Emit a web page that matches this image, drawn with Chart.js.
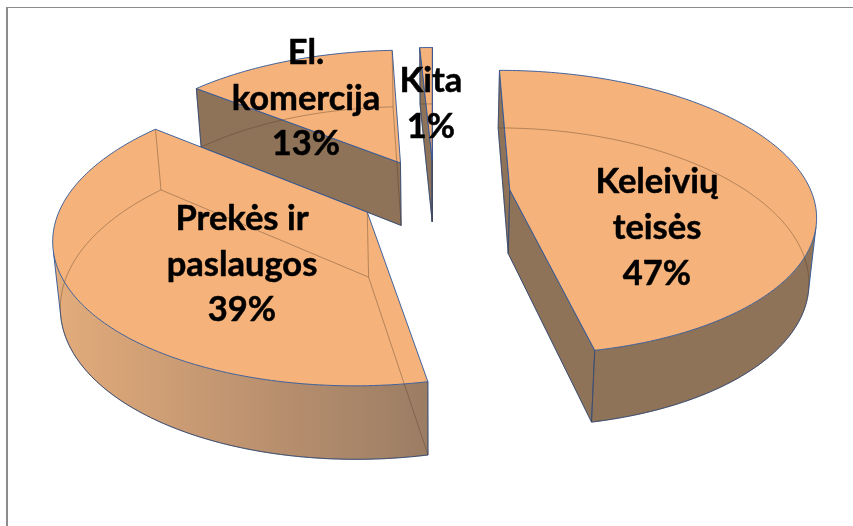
<!DOCTYPE html>
<html><head><meta charset="utf-8">
<style>html,body{margin:0;padding:0;background:#fff}#w{width:853px;height:526px}</style>
<script src="https://cdn.jsdelivr.net/npm/chart.js@4"></script>
</head><body><div id="w"><canvas id="c" width="853" height="526"></canvas></div>
<script>
const categories = ["Keleivių teisės", "Prekės ir paslaugos", "El. komercija", "Kita"];
const shares = [46.8, 39.0, 13.4, 0.8];
const labelLines = [["Keleivių", "teisės"], ["Prekės ir", "paslaugos"], ["El.", "komercija"], ["Kita"]];

// view of the tilted pie
const VIEW = {cx: 434, cy: 193.4, k: 0.000525, q: 0.462, radius: 302, explode: 76.5, depth: 64, taper: 0.98};
const TOP = "#F5B27A", WALL = "#8E7359";
const EDGE = "rgba(47,85,151,0.9)", HIDDEN = "rgba(80,55,35,0.38)";
const FONT = "bold 34.5px Lato, 'Open Sans', sans-serif";
const LABEL_AT = [[657, 193, 46], [242, 230, 45.5], [306, 64, 45.5], [431, 92, 46]];
const DRAW_ORDER = [3, 2, 0, 1];

function project(gx, gy) {
  const w = 1 - VIEW.k * gy;
  return {x: VIEW.cx + gx / w, y: VIEW.cy + VIEW.q * gy / w, w};
}
function lower(p) {
  return {x: VIEW.cx + (p.x - VIEW.cx) * VIEW.taper, y: p.y + VIEW.depth / Math.pow(p.w, 0.7)};
}
function path(ctx, pts, close) {
  ctx.beginPath();
  pts.forEach((p, i) => i ? ctx.lineTo(p.x, p.y) : ctx.moveTo(p.x, p.y));
  if (close) ctx.closePath();
}
function sliceGeometry(arc) {
  const {startAngle: a0, endAngle: a1} = arc.getProps(["startAngle", "endAngle"], true);
  const m = (a0 + a1) / 2;
  const ox = VIEW.explode * Math.cos(m), oy = VIEW.explode * Math.sin(m);
  const at = a => project(ox + VIEW.radius * Math.cos(a), oy + VIEW.radius * Math.sin(a));
  const n = Math.max(4, Math.ceil((a1 - a0) * 60));
  const rim = [], angles = [];
  for (let i = 0; i <= n; i++) { const a = a0 + (a1 - a0) * i / n; angles.push(a); rim.push(at(a)); }
  const apex = project(ox, oy);
  const isFront = a => {
    const p = at(a - 0.002), r = at(a + 0.002), l = lower(at(a));
    const c = at(a);
    return (r.x - p.x) * (l.y - c.y) - (r.y - p.y) * (l.x - c.x) < 0;
  };
  return {rim, apex, angles, front: angles.map(isFront)};
}
function wall(ctx, a, b, fill) {
  const q = [a, b, lower(b), lower(a)];
  path(ctx, q, true);
  ctx.fillStyle = fill; ctx.fill();
  ctx.strokeStyle = EDGE; ctx.lineWidth = 1; ctx.stroke();
}
function drawSlice(ctx, arc) {
  const g = sliceGeometry(arc);
  const first = g.rim[0], last = g.rim[g.rim.length - 1];
  const cross = (a, b) => {
    const d = lower(a);
    return (b.x - a.x) * (d.y - a.y) - (b.y - a.y) * (d.x - a.x);
  };
  if (cross(g.apex, first) < -1) wall(ctx, g.apex, first, WALL);
  if (cross(g.apex, last) > 1) wall(ctx, g.apex, last, WALL);

  const run = g.rim.filter((_, i) => g.front[i]);
  if (run.length > 1) {
    const under = run.map(lower);
    const minX = Math.min(...run.map(p => p.x));
    const isLight = minX < VIEW.cx - 100;
    let fill = WALL;
    if (isLight) {
      fill = ctx.createLinearGradient(minX, 0, Math.max(...run.map(p => p.x)), 0);
      fill.addColorStop(0, "#E3AC7B");
      fill.addColorStop(0.6, "#B88F6E");
      fill.addColorStop(1, "#9B7D64");
    }
    path(ctx, run.concat(under.slice().reverse()), true);
    ctx.fillStyle = fill; ctx.fill();
    ctx.strokeStyle = EDGE; ctx.lineWidth = 1;
    path(ctx, under, false); ctx.stroke();
    path(ctx, [run[0], under[0]], false); ctx.stroke();
    path(ctx, [run[run.length - 1], under[under.length - 1]], false); ctx.stroke();
  }

  path(ctx, [g.apex].concat(g.rim), true);
  ctx.fillStyle = TOP; ctx.fill();

  // edges seen through the body
  ctx.strokeStyle = HIDDEN; ctx.lineWidth = 1;
  const floor = g.rim.map(lower);
  path(ctx, [lower(g.apex)].concat(floor), true); ctx.stroke();
  [first, last, g.apex].forEach(p => { path(ctx, [p, lower(p)], false); ctx.stroke(); });

  path(ctx, [g.apex].concat(g.rim), true);
  ctx.strokeStyle = EDGE; ctx.lineWidth = 1; ctx.stroke();
}

const tiltedPie = {
  id: "tiltedPie",
  beforeDatasetDraw(chart) {
    const ctx = chart.ctx, arcs = chart.getDatasetMeta(0).data;
    ctx.save();
    ctx.lineJoin = "round";
    DRAW_ORDER.forEach(i => drawSlice(ctx, arcs[i]));
    ctx.restore();
    return false;
  },
  afterDraw(chart) {
    const ctx = chart.ctx, values = chart.data.datasets[0].data;
    ctx.save();
    ctx.fillStyle = "#8c8c8c";
    ctx.fillRect(6, 7, chart.width - 6, 1);
    ctx.fillRect(6, 7, 2, chart.height - 7);
    ctx.fillStyle = "#000"; ctx.strokeStyle = "#000"; ctx.lineWidth = 0.5; ctx.lineJoin = "round";
    ctx.font = FONT; ctx.textAlign = "center"; ctx.textBaseline = "alphabetic";
    labelLines.forEach((lines, i) => {
      const [x, y, pitch] = LABEL_AT[i];
      lines.concat(Math.max(1, Math.round(values[i])) + "%").forEach((t, j) => {
        ctx.fillText(t, x, y + j * pitch);
        ctx.strokeText(t, x, y + j * pitch);
      });
    });
    ctx.restore();
  }
};

new Chart(document.getElementById("c"), {
  type: "pie",
  data: {labels: categories, datasets: [{data: shares, backgroundColor: TOP}]},
  options: {
    responsive: false, animation: false,
    plugins: {legend: {display: false}, tooltip: {enabled: false}}
  },
  plugins: [tiltedPie]
});
</script></body></html>
